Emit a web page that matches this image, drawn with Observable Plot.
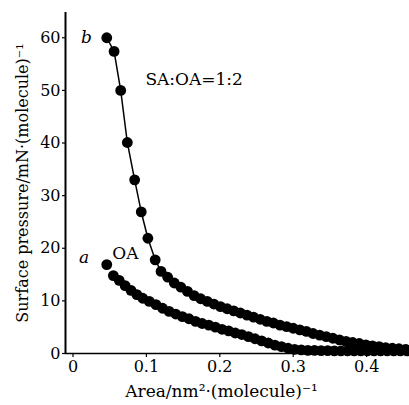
<!DOCTYPE html>
<html>
<head>
<meta charset="utf-8">
<script src="https://cdn.jsdelivr.net/npm/d3@7"></script>
<script src="https://cdn.jsdelivr.net/npm/@observablehq/plot@0.6"></script>
<style>
  html, body { margin: 0; padding: 0; background: white; }
  svg text { font-family: 'DejaVu Serif', serif; }
</style>
</head>
<body>
<div id="chart"></div>
<script>
// Curve b: SA:OA = 1:2
const areaB = [0.046, 0.056, 0.065, 0.074, 0.084, 0.093, 0.102, 0.112,
  0.120, 0.129, 0.138, 0.147, 0.156, 0.165, 0.174, 0.183, 0.192, 0.201, 0.210,
  0.219, 0.228, 0.237, 0.246, 0.255, 0.264, 0.273, 0.282, 0.291, 0.300, 0.309,
  0.318, 0.327, 0.336, 0.345, 0.354, 0.363, 0.372, 0.381, 0.390, 0.399, 0.408,
  0.417, 0.426, 0.435, 0.444, 0.453, 0.462];
const pressB = [60.0, 57.4, 50.0, 40.1, 33.0, 26.9, 21.9, 17.8,
  15.6, 14.5, 13.4, 12.6, 11.8, 11.0, 10.4, 9.9, 9.4, 8.9, 8.5,
  8.1, 7.7, 7.3, 6.9, 6.5, 6.1, 5.8, 5.4, 5.1, 4.8, 4.5,
  4.2, 3.8, 3.5, 3.2, 2.9, 2.6, 2.3, 2.1, 1.9, 1.65, 1.45,
  1.3, 1.1, 1.0, 0.9, 0.8, 0.75];

// Curve a: OA
const areaA = [0.046, 0.055, 0.063, 0.071, 0.079, 0.087, 0.095, 0.104, 0.113,
  0.122, 0.131, 0.140, 0.149, 0.158, 0.167, 0.176, 0.185, 0.194, 0.203, 0.212,
  0.221, 0.230, 0.239, 0.248, 0.257, 0.266, 0.275, 0.284, 0.293, 0.302, 0.311,
  0.320, 0.329, 0.338, 0.347, 0.356, 0.365, 0.374, 0.383, 0.392, 0.401, 0.410,
  0.419, 0.428, 0.437, 0.446, 0.455, 0.464];
const pressA = [16.9, 14.8, 13.9, 12.9, 12.0, 11.2, 10.5, 9.9, 9.3,
  8.6, 8.0, 7.5, 7.0, 6.6, 6.1, 5.7, 5.4, 5.0, 4.6, 4.3,
  3.9, 3.6, 3.2, 2.8, 2.4, 2.0, 1.6, 1.3, 1.0, 0.8, 0.7,
  0.6, 0.6, 0.55, 0.55, 0.5, 0.5, 0.5, 0.5, 0.5, 0.5, 0.5,
  0.5, 0.5, 0.5, 0.5, 0.5, 0.5];

const xTicks = [0, 0.1, 0.2, 0.3, 0.4];
const yTicks = [0, 10, 20, 30, 40, 50, 60];
const xTickLabels = ["0", "0.1", "0.2", "0.3", "0.4"];

const annoText = ["b", "a", "OA", "SA:OA=1:2"];
const annoX = [0.0184, 0.015, 0.0715, 0.165];
const annoY = [60.0, 18.3, 19.0, 52.1];
const annoItalic = [true, true, false, false];

const xLabel = "Area/nm²·(molecule)⁻¹";
const yLabel = "Surface pressure/mN·(molecule)⁻¹";

const dataB = areaB.map((a, i) => ({area: a, p: pressB[i]}));
const dataA = areaA.map((a, i) => ({area: a, p: pressA[i]}));
const annos = annoText.map((t, i) => ({t, x: annoX[i], y: annoY[i], it: annoItalic[i]}));

const xDomain = [-0.0102, 0.4584];
const yDomain = [0, 64.8];

const chart = Plot.plot({
  width: 409,
  height: 405,
  marginLeft: 65,
  marginRight: 0,
  marginTop: 12,
  marginBottom: 52,
  style: {fontFamily: "'DejaVu Serif', serif", fontSize: "16px", background: "white", color: "black"},
  x: {domain: xDomain, label: null},
  y: {domain: yDomain, label: null},
  marks: [
    Plot.axisX({ticks: xTicks, tickFormat: d => xTickLabels[xTicks.indexOf(d)], tickSize: 4, tickPadding: 3, label: null, strokeWidth: 1.2, fontSize: 16}),
    Plot.axisY({ticks: yTicks, tickSize: 3, tickPadding: 2, label: null, strokeWidth: 1.2, fontSize: 16}),
    Plot.ruleY([yDomain[0]], {stroke: "black", strokeWidth: 1.6}),
    Plot.ruleX([xDomain[0]], {stroke: "black", strokeWidth: 2}),
    Plot.line(dataB, {x: "area", y: "p", stroke: "black", strokeWidth: 1.5}),
    Plot.dot(dataB, {x: "area", y: "p", r: 5.4, fill: "black", stroke: "none"}),
    Plot.dot(dataA, {x: "area", y: "p", r: 5.4, fill: "black", stroke: "none"}),
    Plot.text(annos.filter(d => d.it), {x: "x", y: "y", text: "t", fontStyle: "italic", fontSize: 17, fill: "black"}),
    Plot.text(annos.filter(d => !d.it), {x: "x", y: "y", text: "t", fontSize: 17, fill: "black"}),
    Plot.text([xLabel], {frameAnchor: "bottom", textAnchor: "middle", dx: -16, dy: 43, fontSize: 17, fill: "black"}),
    Plot.text([yLabel], {frameAnchor: "left", textAnchor: "middle", dx: -43, rotate: -90, fontSize: 16, fill: "black"})
  ]
});
document.getElementById("chart").appendChild(chart);
</script>
</body>
</html>
